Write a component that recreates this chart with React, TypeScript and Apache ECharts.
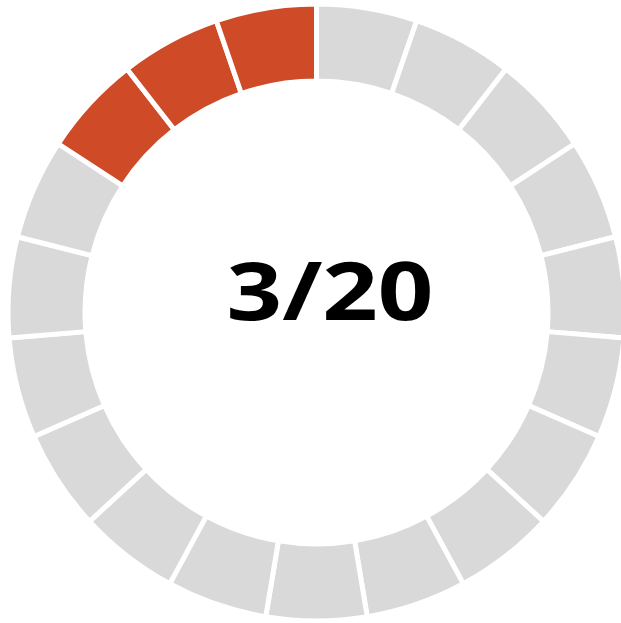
import React, { useEffect, useRef } from "react";
import * as echarts from "echarts";

// The reference ring is drawn with 19 equal segments, 3 of them completed.
const totalSegments = 19;
const doneSegments = 3;
const segmentValues: number[] = [1, 1, 1, 1, 1, 1, 1, 1, 1, 1, 1, 1, 1, 1, 1, 1, 1, 1, 1];
const centerLabel = "3/20";

const DONE_COLOR = "#CF4A27";
const TODO_COLOR = "#D9D9D9";

export default function App() {
  const ref = useRef<HTMLDivElement>(null);
  useEffect(() => {
    if (!ref.current) return;
    const chart = echarts.init(ref.current, undefined, { renderer: "svg" });
    const data = segmentValues.map((v, i) => ({
      value: v,
      name: `s${i + 1}`,
      itemStyle: {
        color: i >= totalSegments - doneSegments ? DONE_COLOR : TODO_COLOR,
      },
    }));
    chart.setOption({
      animation: false,
      series: [
        {
          type: "pie",
          center: [316.5, 312.5],
          radius: [231.5, 308.5],
          startAngle: 90,
          clockwise: true,
          silent: true,
          label: { show: false },
          labelLine: { show: false },
          emphasis: { disabled: true },
          itemStyle: { borderColor: "#ffffff", borderWidth: 5 },
          data,
        },
      ],
      graphic: [
        {
          type: "text",
          x: 330,
          y: 288,
          scaleX: 1.2,
          style: {
            text: centerLabel,
            fontFamily: "Open Sans",
            fontWeight: "bold",
            fontSize: 81,
            fill: "#000000",
            textAlign: "center",
            textVerticalAlign: "middle",
          },
        },
      ],
    });
    return () => chart.dispose();
  }, []);
  return (
    <div
      ref={ref}
      style={{ position: "fixed", left: 0, top: 0, width: 621, height: 623, background: "#ffffff" }}
    />
  );
}
